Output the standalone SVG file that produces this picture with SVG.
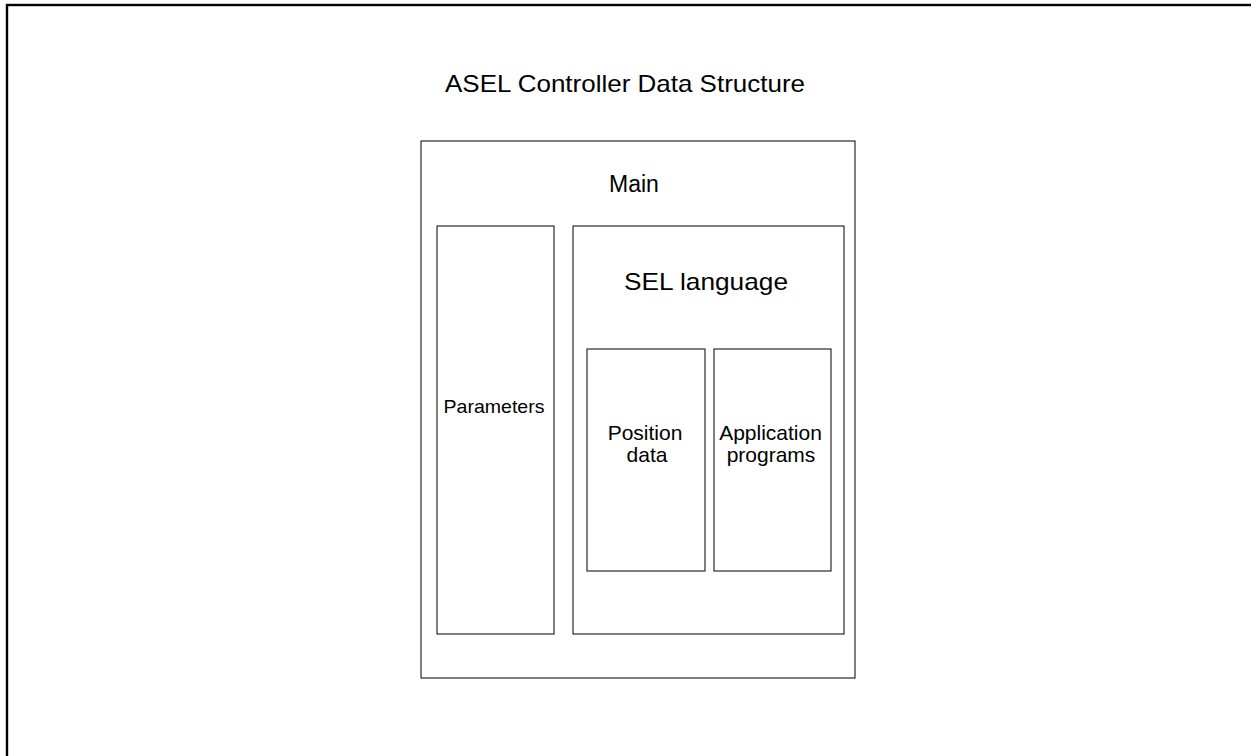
<svg xmlns="http://www.w3.org/2000/svg" width="1251" height="756" viewBox="0 0 1251 756">
  <style>
    .box { fill: #ffffff; stroke: #000000; stroke-width: 1; }
    .t { font-family: "Liberation Sans", Arial, sans-serif; fill: #000000; text-anchor: middle; }
  </style>
  <rect x="0" y="0" width="1251" height="756" fill="#ffffff"/>
  <g id="frame">
    <rect x="7" y="5" width="1300" height="800" fill="none" stroke="#000000" stroke-width="2.4"/>
  </g>
  <text class="t" x="625" y="92" font-size="24" textLength="360" lengthAdjust="spacingAndGlyphs">ASEL Controller Data Structure</text>
  <g id="main">
    <rect class="box" x="421" y="141" width="434" height="537"/>
    <text class="t" x="634" y="192" font-size="23">Main</text>
  </g>
  <g id="parameters">
    <rect class="box" x="437" y="226" width="117" height="408"/>
    <text class="t" x="494" y="412.5" font-size="19" textLength="101" lengthAdjust="spacingAndGlyphs">Parameters</text>
  </g>
  <g id="sel-language">
    <rect class="box" x="573" y="226" width="271" height="408"/>
    <text class="t" x="706" y="289.5" font-size="24" textLength="164" lengthAdjust="spacingAndGlyphs">SEL language</text>
  </g>
  <g id="position-data">
    <rect class="box" x="587" y="349" width="118" height="222"/>
    <text class="t" x="645" y="440" font-size="21">Position</text>
    <text class="t" x="647" y="461.5" font-size="21">data</text>
  </g>
  <g id="application-programs">
    <rect class="box" x="714" y="349" width="117" height="222"/>
    <text class="t" x="770.5" y="440" font-size="21">Application</text>
    <text class="t" x="771" y="461.5" font-size="21">programs</text>
  </g>
  <g id="connectors"></g>
</svg>
